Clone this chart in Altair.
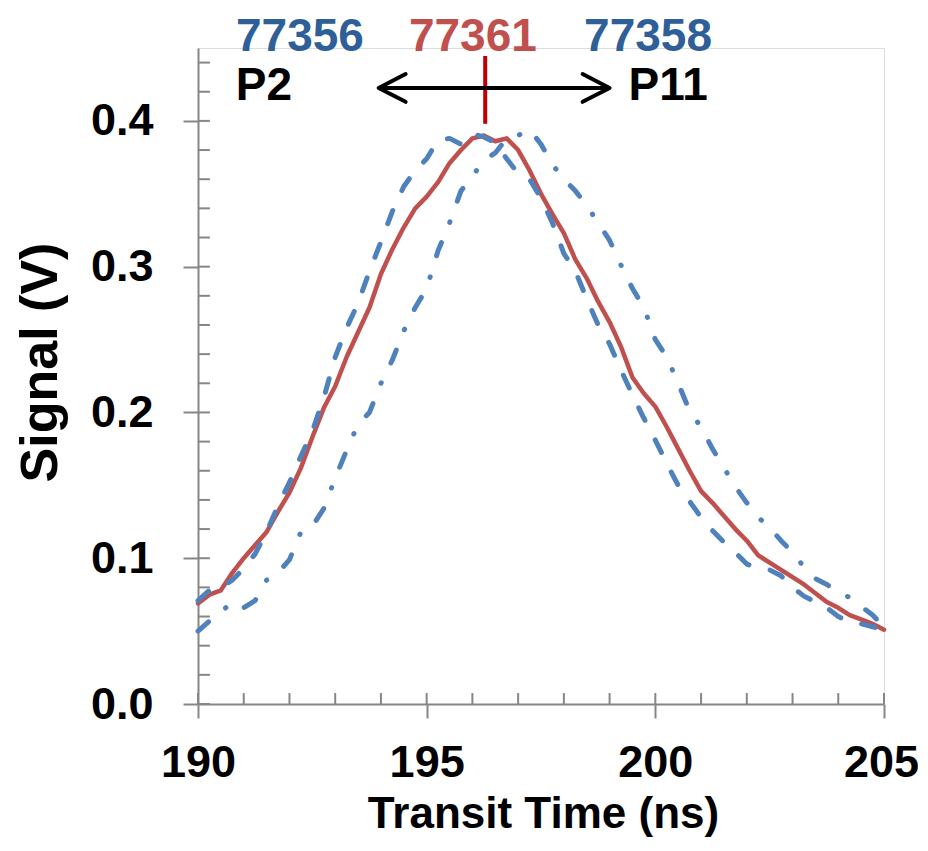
import altair as alt
import pandas as pd

# ---------------- data ----------------
time_ns = [190.00, 190.25, 190.50, 190.75, 191.00, 191.25, 191.50, 191.75,
           192.00, 192.25, 192.50, 192.75, 193.00, 193.25, 193.50, 193.75,
           194.00, 194.25, 194.50, 194.75, 195.00, 195.25, 195.50, 195.75,
           196.00, 196.25, 196.50, 196.75, 197.00, 197.25, 197.50, 197.75,
           198.00, 198.25, 198.50, 198.75, 199.00, 199.25, 199.50, 199.75,
           200.00, 200.25, 200.50, 200.75, 201.00, 201.25, 201.50, 201.75,
           202.00, 202.25, 202.50, 202.75, 203.00, 203.25, 203.50, 203.75,
           204.00, 204.25, 204.50, 204.75, 205.00]

sig_77361 = [0.069, 0.075, 0.078, 0.090, 0.100, 0.109, 0.118, 0.132,
             0.145, 0.162, 0.183, 0.203, 0.218, 0.238, 0.255, 0.272,
             0.295, 0.312, 0.327, 0.340, 0.348, 0.358, 0.371, 0.380,
             0.388, 0.390, 0.386, 0.388, 0.380, 0.366, 0.350, 0.336,
             0.323, 0.305, 0.292, 0.276, 0.262, 0.245, 0.224, 0.213,
             0.204, 0.190, 0.175, 0.160, 0.146, 0.138, 0.129, 0.120,
             0.112, 0.102, 0.097, 0.092, 0.087, 0.082, 0.076, 0.070,
             0.066, 0.061, 0.058, 0.055, 0.051]

sig_77356 = [0.071, 0.078, 0.080, 0.085, 0.093, 0.103, 0.118, 0.136,
             0.152, 0.170, 0.187, 0.210, 0.238, 0.258, 0.275, 0.297,
             0.317, 0.338, 0.355, 0.366, 0.374, 0.387, 0.388, 0.384,
             0.391, 0.389, 0.385, 0.374, 0.364, 0.360, 0.347, 0.330,
             0.309, 0.297, 0.278, 0.260, 0.247, 0.229, 0.212, 0.196,
             0.181, 0.165, 0.150, 0.139, 0.128, 0.119, 0.111, 0.104,
             0.096, 0.093, 0.092, 0.088, 0.080, 0.074, 0.070, 0.066,
             0.060, 0.056, 0.055, 0.053, 0.051]

sig_77358 = [0.050, 0.057, 0.063, 0.070, 0.066, 0.071, 0.085, 0.090,
             0.099, 0.118, 0.122, 0.134, 0.155, 0.174, 0.192, 0.200,
             0.220, 0.236, 0.256, 0.272, 0.285, 0.311, 0.330, 0.352,
             0.362, 0.373, 0.378, 0.388, 0.390, 0.394, 0.384, 0.370,
             0.360, 0.352, 0.342, 0.330, 0.318, 0.301, 0.285, 0.272,
             0.250, 0.238, 0.220, 0.201, 0.190, 0.175, 0.162, 0.149,
             0.138, 0.128, 0.121, 0.112, 0.104, 0.094, 0.086, 0.082,
             0.077, 0.073, 0.067, 0.061, 0.053]

x_major = [190, 195, 200, 205]
x_minor = [191, 192, 193, 194, 196, 197, 198, 199, 201, 202, 203, 204, 205]
y_major = [0.0, 0.1, 0.2, 0.3, 0.4]
y_minor = [0.02, 0.04, 0.06, 0.08, 0.12, 0.14, 0.16, 0.18, 0.22, 0.24,
           0.26, 0.28, 0.32, 0.34, 0.36, 0.38, 0.42, 0.44]

label_text = ["77356", "77361", "77358", "P2", "P11"]
label_x = [192.23, 196.01, 199.84, 191.44, 200.28]
label_y = [0.4576, 0.4576, 0.4576, 0.424, 0.424]
label_color = ["#2F5F98", "#C0504D", "#2F5F98", "#000000", "#000000"]

marker_x = [196.28]
marker_y = [0.398]
marker_y2 = [0.4445]

arrow_x = [193.95, 199.0]
arrow_y = [0.4226, 0.4226]
head_left_x = [194.54, 193.95, 194.54]
head_left_y = [0.4321, 0.4226, 0.4131]
head_right_x = [198.41, 199.0, 198.41]
head_right_y = [0.4321, 0.4226, 0.4131]

# ---------------- tables ----------------
FONT = "Liberation Sans"
X_DOM = [190, 205]
Y_DOM = [0, 0.45]
AX = "#868686"

df_red = pd.DataFrame({"t": time_ns, "v": sig_77361})
df_dash = pd.DataFrame({"t": time_ns, "v": sig_77356})
df_dd = pd.DataFrame({"t": time_ns, "v": sig_77358})

xs = alt.Scale(domain=X_DOM, nice=False, zero=False)
ys = alt.Scale(domain=Y_DOM, nice=False, zero=False)

x_axis = alt.Axis(values=x_major, format="d", title="Transit Time (ns)",
                  labelFont=FONT, labelFontSize=45, labelFontWeight="bold",
                  labelColor="black", labelPadding=22, tickSize=14,
                  labelOffset=alt.ExprRef(expr="datum.value == 205 ? -3 : 0"),
                  tickColor=AX, tickWidth=2, domainColor=AX, domainWidth=2,
                  grid=False, titleFont=FONT, titleFontSize=44,
                  titleFontWeight="bold", titleColor="black",
                  titleX=345, titleY=110, titleBaseline="middle",
                  titleAlign="center", labelOverlap=False, labelFlush=False)
y_axis = alt.Axis(values=y_major, format=".1f", title="Signal (V)",
                  labelFont=FONT, labelFontSize=45, labelFontWeight="bold",
                  labelColor="black", labelPadding=30, tickSize=15,
                  tickColor=AX, tickWidth=2, domainColor=AX, domainWidth=2,
                  grid=False, titleFont=FONT, titleFontSize=52,
                  titleFontWeight="bold", titleColor="black",
                  titleX=-158, titleY=314, titleBaseline="middle",
                  titleAlign="center", titleAngle=-90, labelOverlap=False,
                  labelFlush=False)

base_x = alt.X("t:Q", scale=xs, axis=x_axis)
base_y = alt.Y("v:Q", scale=ys, axis=y_axis)

red = alt.Chart(df_red).mark_line(color="#C0504D", strokeWidth=4.5,
                                  strokeCap="round", strokeJoin="round").encode(
    x=base_x, y=base_y)
dd = alt.Chart(df_dd).mark_line(color="#4F81BD", strokeWidth=5,
                                strokeCap="round", strokeJoin="round",
                                strokeDash=[14, 22, 0.5, 22]).encode(
    x=alt.X("t:Q", scale=xs), y=alt.Y("v:Q", scale=ys))
dash = alt.Chart(df_dash).mark_line(color="#4F81BD", strokeWidth=5,
                                    strokeCap="round", strokeJoin="round",
                                    strokeDash=[14, 22]).encode(
    x=alt.X("t:Q", scale=xs), y=alt.Y("v:Q", scale=ys))

# inner tick marks (axis ticks pointing into the plot)
xt = pd.DataFrame({"t": x_major + x_minor})
xt["v0"] = 0.0
xt["v1"] = 0.0075
x_inner = alt.Chart(xt).mark_rule(color=AX, strokeWidth=2).encode(
    x=alt.X("t:Q", scale=xs), y=alt.Y("v0:Q", scale=ys), y2="v1:Q")
yt = pd.DataFrame({"v": y_major + y_minor})
yt["t0"] = 190.0
yt["t1"] = 190.26
y_inner = alt.Chart(yt).mark_rule(color=AX, strokeWidth=2).encode(
    y=alt.Y("v:Q", scale=ys), x=alt.X("t0:Q", scale=xs), x2="t1:Q")

# annotations
lab = pd.DataFrame({"t": label_x, "v": label_y, "txt": label_text,
                    "c": label_color})
labels = alt.Chart(lab).mark_text(font=FONT, fontSize=46, fontWeight="bold",
                                  align="center", baseline="middle").encode(
    x=alt.X("t:Q", scale=xs), y=alt.Y("v:Q", scale=ys),
    text="txt:N", color=alt.Color("c:N", scale=None))

mk = pd.DataFrame({"t": marker_x, "v": marker_y, "v2": marker_y2})
marker = alt.Chart(mk).mark_rule(color="#C00000", strokeWidth=4).encode(
    x=alt.X("t:Q", scale=xs), y=alt.Y("v:Q", scale=ys), y2="v2:Q")

shaft = alt.Chart(pd.DataFrame({"t": [arrow_x[0]], "t2": [arrow_x[1]],
                                "v": [arrow_y[0]]})).mark_rule(
    color="black", strokeWidth=4).encode(
    x=alt.X("t:Q", scale=xs), x2="t2:Q", y=alt.Y("v:Q", scale=ys))

heads_df = pd.DataFrame({
    "t": head_left_x + head_right_x,
    "v": head_left_y + head_right_y,
    "g": ["L"] * 3 + ["R"] * 3,
    "o": [0, 1, 2, 0, 1, 2]})
heads = alt.Chart(heads_df).mark_line(color="black", strokeWidth=4,
                                      strokeCap="round", strokeJoin="round").encode(
    x=alt.X("t:Q", scale=xs), y=alt.Y("v:Q", scale=ys),
    detail="g:N", order="o:Q")

chart = alt.layer(red, dd, dash, x_inner, y_inner, marker, shaft, heads,
                  labels).properties(
    width=686, height=656,
    autosize=alt.AutoSizeParams(type="none"),
    padding={"left": 190, "top": 40, "right": 34, "bottom": 134},
).configure_view(stroke=None).configure(background="white")

chart.save("out.html", embed_options={"renderer": "svg", "actions": False})
